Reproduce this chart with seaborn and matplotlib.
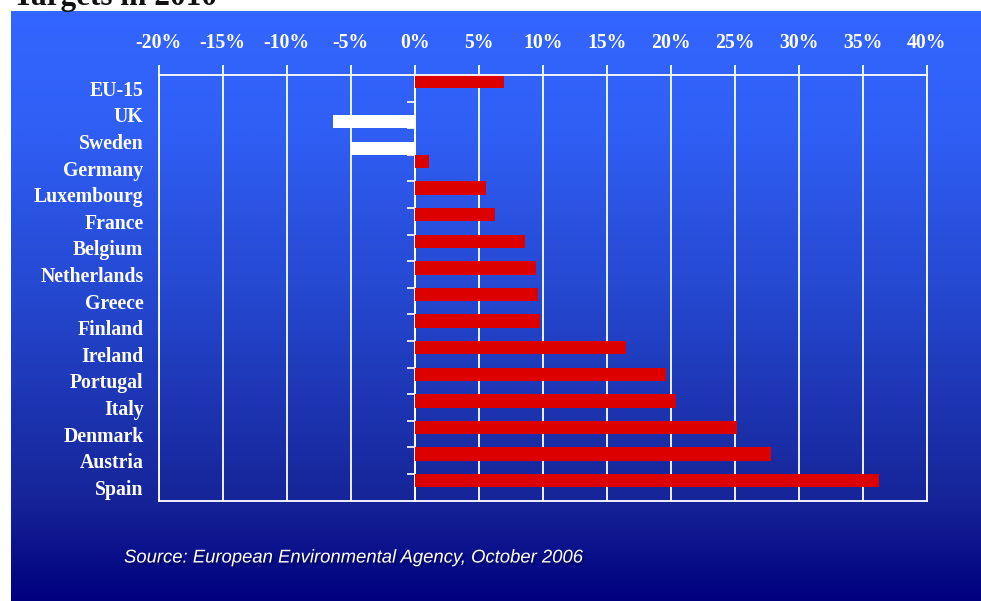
import numpy as np
import pandas as pd
import matplotlib
matplotlib.use("Agg")
import matplotlib.pyplot as plt
import matplotlib.patheffects as pe
from matplotlib.colors import LinearSegmentedColormap
import seaborn as sns

# Distance to Kyoto targets in 2010 (percent above / below target)
countries = ["EU-15", "UK", "Sweden", "Germany", "Luxembourg", "France",
             "Belgium", "Netherlands", "Greece", "Finland", "Ireland",
             "Portugal", "Italy", "Denmark", "Austria", "Spain"]
gap_pct = [7.0, -6.4, -5.0, 1.1, 5.6, 6.3, 8.6, 9.5, 9.6, 9.8, 16.5,
           19.6, 20.4, 25.2, 27.8, 36.3]
x_ticks = [-20, -15, -10, -5, 0, 5, 10, 15, 20, 25, 30, 35, 40]
x_tick_labels = ["-20%", "-15%", "-10%", "-5%", "0%", "5%", "10%", "15%",
                 "20%", "25%", "30%", "35%", "40%"]
title_text = "Targets in 2010"
source_text = "Source: European Environmental Agency, October 2006"

df = pd.DataFrame({"country": countries, "gap": gap_pct})
df["side"] = np.where(df["gap"] >= 0, "above", "below")

sns.set_style("white")
serif = ["Liberation Serif", "DejaVu Serif"]
sans = ["Liberation Sans", "DejaVu Sans"]

W, H = 981, 601
fig = plt.figure(figsize=(W / 100, H / 100), dpi=100, facecolor="white")

# gradient backdrop panel
bg = fig.add_axes([11 / W, 0, (W - 11) / W, (H - 11) / H], zorder=0)
cmap = LinearSegmentedColormap.from_list(
    "panel",
    [(0.0, (51 / 255, 102 / 255, 255 / 255)),
     (0.20, (48 / 255, 95 / 255, 245 / 255)),
     (0.50, (36 / 255, 70 / 255, 205 / 255)),
     (0.83, (22 / 255, 36 / 255, 152 / 255)),
     (1.0, (0 / 255, 0 / 255, 126 / 255))])
grad = np.linspace(0, 1, 512).reshape(-1, 1)
bg.imshow(grad, aspect="auto", cmap=cmap, extent=[0, 1, 1, 0])
bg.set_axis_off()

ax = fig.add_axes([158.7 / W, 1 - 500.7 / H, 768 / W, 425.7 / H], zorder=2)
ax.set_facecolor("none")

sns.barplot(data=df, x="gap", y="country", hue="side",
            hue_order=["above", "below"],
            palette={"above": "#dd0000", "below": "#ffffff"},
            orient="h", width=1.0, dodge=True, saturation=1,
            linewidth=0, legend=False, ax=ax)

ax.set_xlim(-20, 40)
ax.set_ylim(len(countries) - 0.5, -0.5)
ax.set_xlabel("")
ax.set_ylabel("")

ax.set_axisbelow(True)
ax.grid(axis="x", color="white", linewidth=1.3)
ax.grid(axis="y", visible=False)
for sp in ax.spines.values():
    sp.set_visible(True)
    sp.set_color("white")
    sp.set_linewidth(1.3)

ax.xaxis.tick_top()
ax.set_xticks(x_ticks)
ax.set_xticklabels(x_tick_labels)
ax.tick_params(axis="x", top=True, bottom=False, labeltop=True,
               labelbottom=False, direction="out", length=7, width=1.3,
               color="white", pad=9, labelcolor="white")
ax.tick_params(axis="y", left=True, length=0, pad=11, labelcolor="white")
for lab in ax.get_xticklabels() + ax.get_yticklabels():
    lab.set_fontfamily(serif)
    lab.set_fontweight("bold")
    lab.set_fontsize(14.2)

# small ticks between categories along the zero line
sec = ax.secondary_yaxis(1 / 3)
sec.set_yticks([k + 0.5 for k in range(len(countries) - 1)])
sec.set_yticklabels([])
sec.tick_params(axis="y", direction="out", length=6, width=1.2,
                color="white")
for sp in sec.spines.values():
    sp.set_color("white")
    sp.set_linewidth(1.3)

fig.text(13 / W, 1 - 5 / H, title_text, fontfamily=serif, fontweight="bold",
         fontsize=22.5, color="#111111", ha="left", va="baseline", zorder=5)

fig.text(124 / W, 1 - 558 / H, source_text, fontfamily=sans, style="italic",
         fontsize=13.3, color="white", ha="left", va="center", zorder=5,
         path_effects=[pe.withSimplePatchShadow(offset=(1.5, -1.5),
                                                shadow_rgbFace="#000033",
                                                alpha=0.45)])

fig.savefig("out.png", dpi=100, facecolor="white")
